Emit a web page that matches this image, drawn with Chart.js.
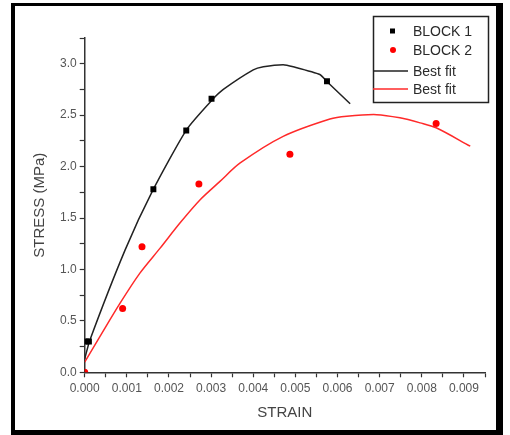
<!DOCTYPE html>
<html>
<head>
<meta charset="utf-8">
<script src="https://cdn.jsdelivr.net/npm/chart.js@4.4.1/dist/chart.umd.min.js"></script>
<style>
  html, body { margin: 0; padding: 0; background: #fff; }
  #wrap { width: 510px; height: 435px; }
</style>
</head>
<body>
<div id="wrap"><canvas id="myChart" width="510" height="435"></canvas></div>
<script>
// measured points, block 1 and block 2
const block1X = [0.00003, 0.0001, 0.00163, 0.00241, 0.00301, 0.00575]
const block1Y = [0.30, 0.30, 1.78, 2.35, 2.66, 2.83]
const block2X = [0, 0.0009, 0.00136, 0.00271, 0.00487, 0.00834]
const block2Y = [0, 0.62, 1.22, 1.83, 2.12, 2.42]

// best fit curves
const fit1X = [0, 0.00012, 0.00096, 0.00163, 0.00242, 0.00303, 0.00329, 0.0040, 0.00424, 0.00471, 0.00495, 0.00558, 0.00574, 0.0063]
const fit1Y = [0.13, 0.31, 1.19, 1.78, 2.36, 2.65, 2.75, 2.94, 2.97, 2.99, 2.97, 2.895, 2.83, 2.61]
const fit2X = [0, 0.00036, 0.00084, 0.00131, 0.00179, 0.00226, 0.00274, 0.00321, 0.00369, 0.00471, 0.00582, 0.00622, 0.00693, 0.00748, 0.00796, 0.00834, 0.00915]
const fit2Y = [0.10, 0.347, 0.672, 0.964, 1.207, 1.451, 1.678, 1.856, 2.035, 2.294, 2.463, 2.49, 2.505, 2.474, 2.425, 2.377, 2.198]

const seriesNames = ['BLOCK 1', 'BLOCK 2', 'Best fit', 'Best fit']
const xTitle = 'STRAIN'
const yTitle = 'STRESS (MPa)'

const toPts = (xs, ys) => xs.map((x, i) => ({ x: x, y: ys[i] }))

// frame round the whole figure + legend box
const decor = {
  id: 'decor',
  afterDraw(chart) {
    const ctx = chart.ctx
    ctx.save()
    ctx.fillStyle = '#000'
    ctx.fillRect(11, 3, 492, 3)     // top
    ctx.fillRect(11, 3, 4, 432)     // left
    ctx.fillRect(496, 3, 7, 432)    // right
    ctx.fillRect(11, 430, 492, 5)   // bottom

    // legend
    ctx.strokeStyle = '#222'
    ctx.lineWidth = 1.5
    ctx.strokeRect(373.5, 16.5, 115, 86)
    const rows = [31, 50, 71, 89]
    const ds = chart.data.datasets
    ctx.font = '14px "Liberation Sans", Arial, sans-serif'
    ctx.textBaseline = 'middle'
    ds.forEach((d, i) => {
      const y = rows[i]
      if (d.showLine) {
        ctx.strokeStyle = d.borderColor
        ctx.lineWidth = 1.5
        ctx.beginPath()
        ctx.moveTo(373, y)
        ctx.lineTo(408, y)
        ctx.stroke()
      } else if (d.pointStyle === 'rect') {
        ctx.fillStyle = d.backgroundColor
        ctx.fillRect(390, y - 2.5, 5, 5)
      } else {
        ctx.fillStyle = d.backgroundColor
        ctx.beginPath()
        ctx.arc(393, y, 3, 0, Math.PI * 2)
        ctx.fill()
      }
      ctx.fillStyle = '#2a2a2a'
      ctx.fillText(d.label, 413, y + 1)
    })
    ctx.restore()
  }
}

new Chart('myChart', {
  type: 'scatter',
  data: {
    datasets: [{
      label: seriesNames[0],
      data: toPts(block1X, block1Y),
      pointStyle: 'rect',
      pointRadius: 4.2,
      backgroundColor: '#000',
      borderColor: '#000',
      borderWidth: 0,
      showLine: false,
      order: 0
    }, {
      label: seriesNames[1],
      data: toPts(block2X, block2Y),
      pointStyle: 'circle',
      pointRadius: 3.5,
      backgroundColor: '#ff0000',
      borderColor: '#ff0000',
      borderWidth: 0,
      showLine: false,
      order: 0
    }, {
      label: seriesNames[2],
      data: toPts(fit1X, fit1Y),
      showLine: true,
      borderColor: '#222',
      borderWidth: 1.5,
      pointRadius: 0,
      tension: 0.2,
      order: 1
    }, {
      label: seriesNames[3],
      data: toPts(fit2X, fit2Y),
      showLine: true,
      borderColor: '#ff2a2a',
      borderWidth: 1.5,
      pointRadius: 0,
      tension: 0.3,
      order: 1
    }]
  },
  options: {
    responsive: false,
    animation: false,
    events: [],
    layout: { padding: { left: 20, right: 25, top: 38, bottom: 12 } },
    plugins: { legend: { display: false }, tooltip: { enabled: false } },
    scales: {
      x: {
        type: 'linear',
        min: 0,
        max: 0.0095,
        afterFit: (s) => { s.height = 50.7 },
        ticks: {
          stepSize: 0.0005,
          autoSkip: false,
          maxRotation: 0,
          padding: 4,
          color: '#555',
          font: { family: '"Liberation Sans", Arial, sans-serif', size: 12 },
          callback: (v) => {
            const k = Math.round(v / 0.0005)
            return k % 2 === 0 ? (k * 0.0005).toFixed(3) : ''
          }
        },
        grid: { drawOnChartArea: false, tickLength: 5, color: '#333', tickWidth: 1.2 },
        border: { display: true, color: '#333', width: 1.5 },
        title: {
          display: true,
          text: xTitle,
          color: '#444',
          font: { family: '"Liberation Sans", Arial, sans-serif', size: 15 },
          padding: { top: 0, bottom: 1 }
        }
      },
      y: {
        min: 0,
        max: 3.25,
        afterFit: (s) => { s.width = 64.7 },
        ticks: {
          stepSize: 0.25,
          autoSkip: false,
          padding: 3,
          color: '#555',
          font: { family: '"Liberation Sans", Arial, sans-serif', size: 12 },
          callback: (v) => {
            const k = Math.round(v / 0.25)
            return k % 2 === 0 ? (k * 0.25).toFixed(1) : ''
          }
        },
        grid: { drawOnChartArea: false, tickLength: 5, color: '#333', tickWidth: 1.2 },
        border: { display: true, color: '#333', width: 1.5 },
        title: {
          display: true,
          text: yTitle,
          color: '#444',
          font: { family: '"Liberation Sans", Arial, sans-serif', size: 15 },
          padding: { top: 11, bottom: 0 }
        }
      }
    }
  },
  plugins: [decor]
})
</script>
</body>
</html>
